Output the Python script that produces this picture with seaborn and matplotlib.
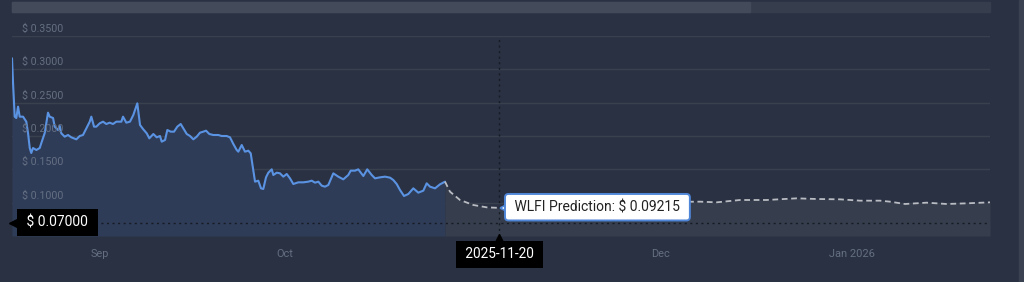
import numpy as np
import pandas as pd
import matplotlib
matplotlib.use("Agg")
import matplotlib.pyplot as plt
import matplotlib.dates as mdates
import seaborn as sns
import matplotlib.transforms as mtrans
from matplotlib.patches import Rectangle

# ---------------- data ----------------
ORIGIN = "2025-09-01"  # day offsets below are counted from this date

hist_days = [-14.28, -14.11, -13.84, -13.58, -13.30, -13.03, -12.49, -11.96, -11.68, -11.40,
             -11.15, -10.87, -10.33, -9.78, -9.52, -8.97, -8.44, -8.16, -7.62, -7.35,
             -6.81, -6.54, -6.28, -5.73, -5.19, -4.66, -3.84, -3.29, -2.76, -2.22,
             -1.67, -1.41, -0.97, -0.60, -0.05, 0.49, 1.02, 1.57, 2.11, 2.64,
             3.46, 3.73, 4.27, 4.86, 5.40, 6.05, 6.49, 7.02, 7.58, 8.00,
             8.65, 9.20, 9.73, 10.01, 10.55, 10.92, 11.47, 12.01, 12.54, 13.09,
             13.51, 14.07, 14.60, 15.14, 15.69, 16.22, 16.76, 17.20, 17.73, 18.38,
             19.19, 19.74, 20.55, 21.09, 21.63, 22.18, 22.44, 22.99, 23.52, 24.06,
             24.45, 24.87, 25.15, 25.68, 26.12, 26.49, 26.93, 27.31, 27.86, 28.12,
             28.67, 29.20, 29.74, 30.29, 30.82, 31.36, 32.17, 32.98, 33.79, 34.34,
             34.88, 35.42, 35.97, 36.50, 37.04, 37.43, 37.85, 38.66, 39.47, 40.28,
             40.67, 41.37, 41.90, 42.18, 42.72, 43.36, 44.08, 44.61, 45.43, 46.24,
             47.05, 47.58, 48.13, 48.67, 49.32, 50.02, 50.83, 51.64, 52.45, 53.00,
             53.54, 54.35, 55.16, 55.97]
hist_price = [0.3166, 0.2795, 0.2290, 0.2270, 0.2440, 0.2290, 0.2290, 0.2215, 0.2045, 0.1820,
              0.1745, 0.1820, 0.1790, 0.1820, 0.1895, 0.2045, 0.2350, 0.2290, 0.2270, 0.2140,
              0.2090, 0.2150, 0.2040, 0.1990, 0.2015, 0.1980, 0.1950, 0.2000, 0.2015, 0.2115,
              0.2215, 0.2290, 0.2140, 0.2140, 0.2190, 0.2215, 0.2180, 0.2200, 0.2180, 0.2215,
              0.2215, 0.2290, 0.2200, 0.2215, 0.2315, 0.2490, 0.2165, 0.2100, 0.2040, 0.1965,
              0.2030, 0.1980, 0.2000, 0.1915, 0.1940, 0.2090, 0.2065, 0.2065, 0.2140, 0.2180,
              0.2115, 0.2030, 0.2000, 0.1950, 0.1990, 0.2050, 0.2065, 0.2080, 0.2030, 0.2015,
              0.2015, 0.2000, 0.2000, 0.1980, 0.1880, 0.1790, 0.1765, 0.1865, 0.1765, 0.1780,
              0.1740, 0.1490, 0.1315, 0.1330, 0.1215, 0.1205, 0.1380, 0.1450, 0.1500, 0.1415,
              0.1450, 0.1440, 0.1390, 0.1430, 0.1365, 0.1280, 0.1305, 0.1305, 0.1315, 0.1330,
              0.1300, 0.1315, 0.1255, 0.1240, 0.1265, 0.1350, 0.1440, 0.1390, 0.1350, 0.1415,
              0.1480, 0.1480, 0.1500, 0.1465, 0.1400, 0.1500, 0.1415, 0.1365, 0.1380, 0.1390,
              0.1375, 0.1340, 0.1280, 0.1190, 0.1100, 0.1130, 0.1215, 0.1150, 0.1180, 0.1290,
              0.1240, 0.1215, 0.1275, 0.1315]

pred_days = [55.97, 56.78, 58.40, 60.56, 62.74, 64.78, 69.76, 76.25, 84.36, 90.85,
             97.34, 100.05, 103.83, 108.15, 113.02, 116.27, 120.05, 123.30, 126.54, 128.16,
             130.60, 134.12, 137.36, 140.61, 144.39]
pred_price = [0.1315, 0.1165, 0.1040, 0.0965, 0.0930, 0.09215, 0.0945, 0.0975, 0.1000, 0.1010,
              0.1015, 0.1005, 0.1040, 0.1040, 0.1065, 0.1055, 0.1050, 0.1030, 0.1030, 0.1015,
              0.0980, 0.1000, 0.0980, 0.0990, 0.1005]
hover_index = 5  # prediction point under the crosshair

y_ticks = [0.10, 0.15, 0.20, 0.25, 0.30, 0.35]
y_tick_labels = ["$ 0.1000", "$ 0.1500", "$ 0.2000", "$ 0.2500", "$ 0.3000", "$ 0.3500"]
x_tick_dates = ["2025-09-01", "2025-10-01", "2025-12-01", "2026-01-01"]
x_tick_labels = ["Sep", "Oct", "Dec", "Jan 2026"]
support_level = 0.07
support_label = "$ 0.07000"
hover_date_label = "2025-11-20"
tooltip_text = "WLFI Prediction: $ 0.09215"
x_range_days = (-14.28, 144.39)
y_range = (0.05, 0.35)

# ---------------- styling ----------------
BG = "#2a3143"
GRID = "#39414f"
BLUE = "#5b93e3"
PRED = "#b9bcc2"
TICK = "#646f82"

sns.set_theme(style="dark", rc={"axes.facecolor": BG, "figure.facecolor": BG})
plt.rcParams["font.family"] = ["Roboto", "DejaVu Sans"]

origin = pd.Timestamp(ORIGIN)
to_dt = lambda d: origin + pd.to_timedelta(np.asarray(d, dtype=float), unit="D")
hist_x = to_dt(hist_days)
pred_x = to_dt(pred_days)

fig = plt.figure(figsize=(10.24, 2.82), dpi=100)
ax = fig.add_axes([12 / 1024, 46 / 282, 978 / 1024, 200 / 282])
ax.set_facecolor(BG)

# scrollbar / side strip decorations
fig.patches.append(Rectangle((12 / 1024, 270 / 282), 978 / 1024, 10 / 282,
                             transform=fig.transFigure, color="#363e4e", zorder=0))
fig.patches.append(Rectangle((12 / 1024, 270 / 282), 738 / 1024, 10 / 282,
                             transform=fig.transFigure, color="#434b5b", zorder=0))
fig.patches.append(Rectangle((1019 / 1024, 0), 5 / 1024, 1,
                             transform=fig.transFigure, color="#3a4252", zorder=0))

# grid lines
for t in [y_range[0]] + y_ticks:
    ax.axhline(t, color=GRID, lw=1.0, zorder=1)

# fills
ax.fill_between(hist_x, hist_price, y_range[0], color="#2f3c58", lw=0, zorder=2)
ax.fill_between(pred_x, pred_price, y_range[0], color="#363d4c", lw=0, zorder=2)

# lines
sns.lineplot(x=hist_x, y=hist_price, ax=ax, color=BLUE, lw=1.5, zorder=4)
sns.lineplot(x=pred_x, y=pred_price, ax=ax, color=PRED, lw=1.3,
             linestyle=(0, (3.2, 2.0)), zorder=4)

# support level + crosshair
ax.axhline(support_level, color="#161b24", lw=1.0, ls=(0, (1.5, 2.5)), zorder=3)
hx = float(mdates.date2num(pred_x[hover_index]))
hy = pred_price[hover_index]
ax.axvline(hx, color="#161b24", lw=1.0, ls=(0, (1.5, 2.5)), zorder=3)

ax.set_xlim(to_dt([x_range_days[0]])[0], to_dt([x_range_days[1]])[0])
ax.set_ylim(*y_range)

# ticks
ax.set_yticks([])
ax.set_xticks(pd.to_datetime(x_tick_dates))
ax.set_xticklabels(x_tick_labels, color=TICK, fontsize=7.9)
ax.tick_params(axis="x", length=0, pad=9.3)
for s in ax.spines.values():
    s.set_visible(False)
ax.set_xlabel("")
ax.set_ylabel("")

ytrans = mtrans.blended_transform_factory(ax.transAxes, ax.transData)
for t, lab in zip(y_ticks, y_tick_labels):
    ax.annotate(lab, xy=(0, t), xycoords=ytrans, xytext=(7.5, 1.5), textcoords="offset points",
                ha="left", va="bottom", color=TICK, fontsize=7.7, zorder=5)

# left price tag
ax.annotate(" " + support_label + " ", xy=(0, support_level), xycoords=ytrans, xytext=(8, 0),
            textcoords="offset points", ha="left", va="center", color="white", fontsize=10,
            bbox=dict(boxstyle="square,pad=0.45", fc="black", ec="none"), zorder=8,
            annotation_clip=False)
ax.plot([0.0015], [support_level], marker="<", ms=6, color="black", transform=ytrans,
        clip_on=False, zorder=8)

# bottom date tag
xtrans = mtrans.blended_transform_factory(ax.transData, ax.transAxes)
ax.annotate(" " + hover_date_label + " ", xy=(hx, 0), xycoords=xtrans, xytext=(0, -13.3),
            textcoords="offset points", ha="center", va="center", color="white", fontsize=9.8,
            bbox=dict(boxstyle="square,pad=0.45", fc="black", ec="none"), zorder=8,
            annotation_clip=False)
ax.plot([hx], [-0.012], marker="^", ms=6, color="black", transform=xtrans,
        clip_on=False, zorder=8)

# tooltip
ax.plot([hx], [hy], marker="<", ms=9, markerfacecolor="white", markeredgecolor="#4f86d8",
        markeredgewidth=1.2, zorder=9,
        transform=ax.transData + mtrans.ScaledTranslation(4.6 / 72, 0, fig.dpi_scale_trans))
ax.annotate(" " + tooltip_text + " ", xy=(hx, hy), xytext=(8.6, 0.5), textcoords="offset points",
            ha="left", va="center", color="#222222", fontsize=10,
            bbox=dict(boxstyle="round,pad=0.45,rounding_size=0.25", fc="white", ec="#4f86d8", lw=1.4),
            zorder=10)

fig.savefig("out.png", dpi=100, facecolor=BG)
